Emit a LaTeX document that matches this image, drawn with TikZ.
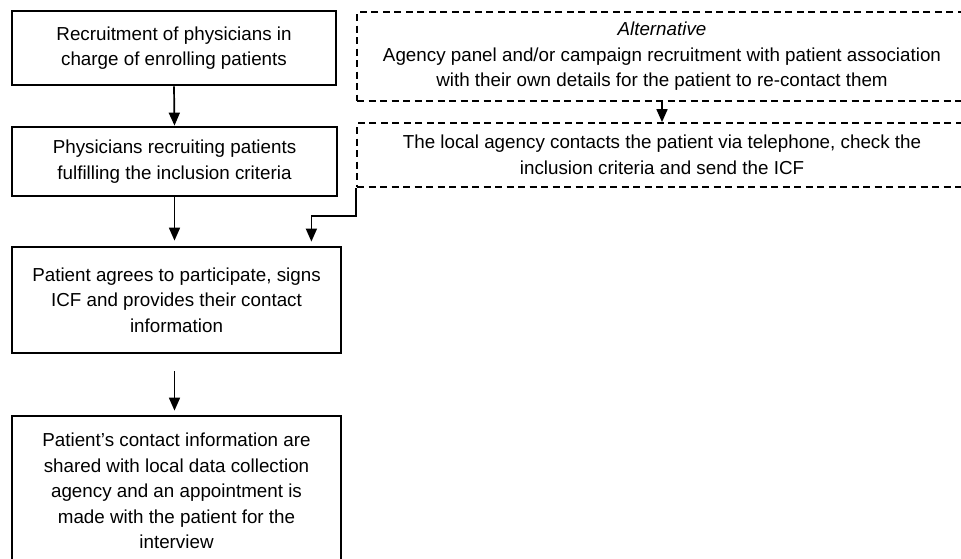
\documentclass[tikz,border=0pt]{standalone}
\usepackage{fontspec}
\setmainfont{Liberation Sans}
\usetikzlibrary{arrows.meta}
\begin{document}
\begin{tikzpicture}[x=1pt,y=-1pt,
  txt/.style={align=center, inner sep=0pt, font=\fontsize{18.8}{25.5}\selectfont},
  solidbox/.style={txt, draw, line width=2.8pt},
  dashbox/.style={txt, draw, line width=1.7pt, dash pattern=on 7pt off 4.5pt},
  arr/.style={line width=1.7pt, -{Triangle[width=11pt,length=13pt]}}]
\useasboundingbox (0,0) rectangle (961,558);
\node[solidbox, minimum width=324pt, minimum height=74pt] (b1) at (174,48)
  {Recruitment of physicians in\\charge of enrolling patients};
\node[solidbox, minimum width=325pt, minimum height=69pt] (b2) at (174.5,161.5)
  {Physicians recruiting patients\\fulfilling the inclusion criteria};
\node[solidbox, minimum width=329pt, minimum height=106pt] (b3) at (176.5,300)
  {Patient agrees to participate, signs\\ICF and provides their contact\\information};
\node[solidbox, minimum width=329pt, minimum height=150pt] (b4) at (176.5,491)
  {Patient's contact information are\\shared with local data collection\\agency and an appointment is\\made with the patient for the\\interview};
\node[dashbox, minimum width=610pt, minimum height=89pt] (d1) at (662,56.5)
  {\textit{Alternative}\\Agency panel and/or campaign recruitment with patient association\\with their own details for the patient to re-contact them};
\node[dashbox, minimum width=610pt, minimum height=64pt] (d2) at (662,155)
  {The local agency contacts the patient via telephone, check the\\inclusion criteria and send the ICF};
\draw[arr] (b1.south) -- (b2.north);
\draw[arr, shorten >=5pt] (b2.south) -- (b2.south |- b3.north);
\draw[arr, shorten <=17pt, shorten >=4pt] (b3.south -| b2.south) -- (b2.south |- b4.north);
\draw[arr] (d1.south) -- (d2.north);
\draw[arr, shorten >=4pt] (d2.south west) -- ++(0,28) -| ([xshift=-31pt]b3.north east);
\end{tikzpicture}
\end{document}
